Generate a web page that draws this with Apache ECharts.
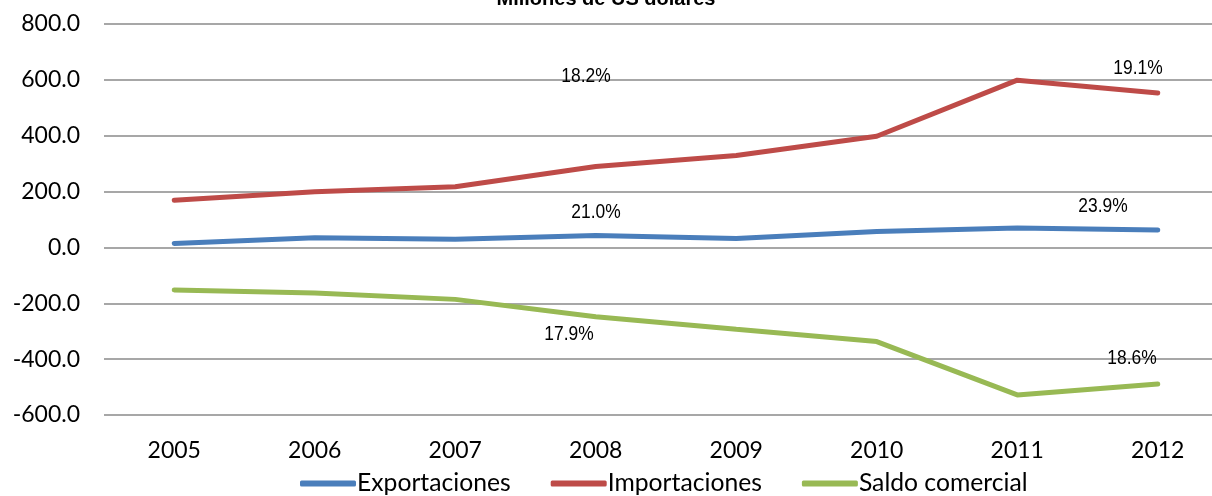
<!DOCTYPE html>
<html>
<head>
<meta charset="utf-8">
<script src="https://cdn.jsdelivr.net/npm/echarts@6/dist/echarts.min.js"></script>
<style>html,body{margin:0;padding:0;background:#fff;}#c{width:1212px;height:496px;}</style>
</head>
<body>
<div id="c"></div>
<script>
const years = ['2005','2006','2007','2008','2009','2010','2011','2012'];
const exportaciones = [14, 35, 29, 43, 32, 57, 70, 62];
const importaciones = [169, 199, 217, 290, 329, 398, 599, 553];
const saldo = [-152, -163, -186, -248, -293, -337, -528, -489];
const yTicks = [-600, -400, -200, 0, 200, 400, 600, 800];
const notes = [
  {text: '18.2%', x: 586, y: 76},
  {text: '21.0%', x: 596, y: 212},
  {text: '17.9%', x: 569, y: 334},
  {text: '19.1%', x: 1138, y: 68},
  {text: '23.9%', x: 1103, y: 206},
  {text: '18.6%', x: 1132, y: 358}
];
const colors = ['#4A7EBB', '#BE4B48', '#98B954'];
const chart = echarts.init(document.getElementById('c'));
const font = 'Lato, "Open Sans", sans-serif';
chart.setOption({
  animation: false,
  title: {
    text: 'Millones de US dólares', left: 'center', top: -16,
    textStyle: {fontFamily: 'Liberation Sans, Arial, sans-serif', fontWeight: 'bold', fontSize: 20, color: '#000'}
  },
  grid: {left: 104, width: 1124, top: 24, bottom: 81, containLabel: false, outerBoundsMode: 'none'},
  legend: {
    bottom: -5, left: 295, itemWidth: 56, itemHeight: 6, itemGap: 40, icon: 'roundRect',
    textStyle: {fontFamily: font, fontSize: 24.7, color: '#000', padding: [0, 0, 0, -4]},
    data: ['Exportaciones', 'Importaciones', 'Saldo comercial']
  },
  xAxis: {
    type: 'category', data: years, boundaryGap: true,
    axisLine: {show: false}, axisTick: {show: false},
    axisLabel: {fontFamily: font, fontSize: 23, color: '#000', margin: 24}
  },
  yAxis: {
    type: 'value', min: yTicks[0], max: yTicks[yTicks.length - 1], interval: 200,
    axisLine: {show: false}, axisTick: {show: false},
    axisLabel: {fontFamily: font, fontSize: 23, color: '#000', margin: 24, formatter: v => v.toFixed(1)},
    splitLine: {lineStyle: {color: '#8a8a8a', width: 1.5}}
  },
  series: [
    {name: 'Exportaciones', type: 'line', data: exportaciones, showSymbol: false, symbol: 'none', lineStyle: {width: 5, color: colors[0], cap: 'round'}, itemStyle: {color: colors[0]}},
    {name: 'Importaciones', type: 'line', data: importaciones, showSymbol: false, symbol: 'none', lineStyle: {width: 5, color: colors[1], cap: 'round'}, itemStyle: {color: colors[1]}},
    {name: 'Saldo comercial', type: 'line', data: saldo, showSymbol: false, symbol: 'none', lineStyle: {width: 5, color: colors[2], cap: 'round'}, itemStyle: {color: colors[2]}}
  ],
  graphic: notes.map(n => ({
    type: 'text', x: n.x, y: n.y, z: 100, scaleX: 0.87,
    style: {text: n.text, fill: '#000', font: '20px "Liberation Sans", Arial, sans-serif', textAlign: 'center', textVerticalAlign: 'middle'}
  }))
});
</script>
</body>
</html>
